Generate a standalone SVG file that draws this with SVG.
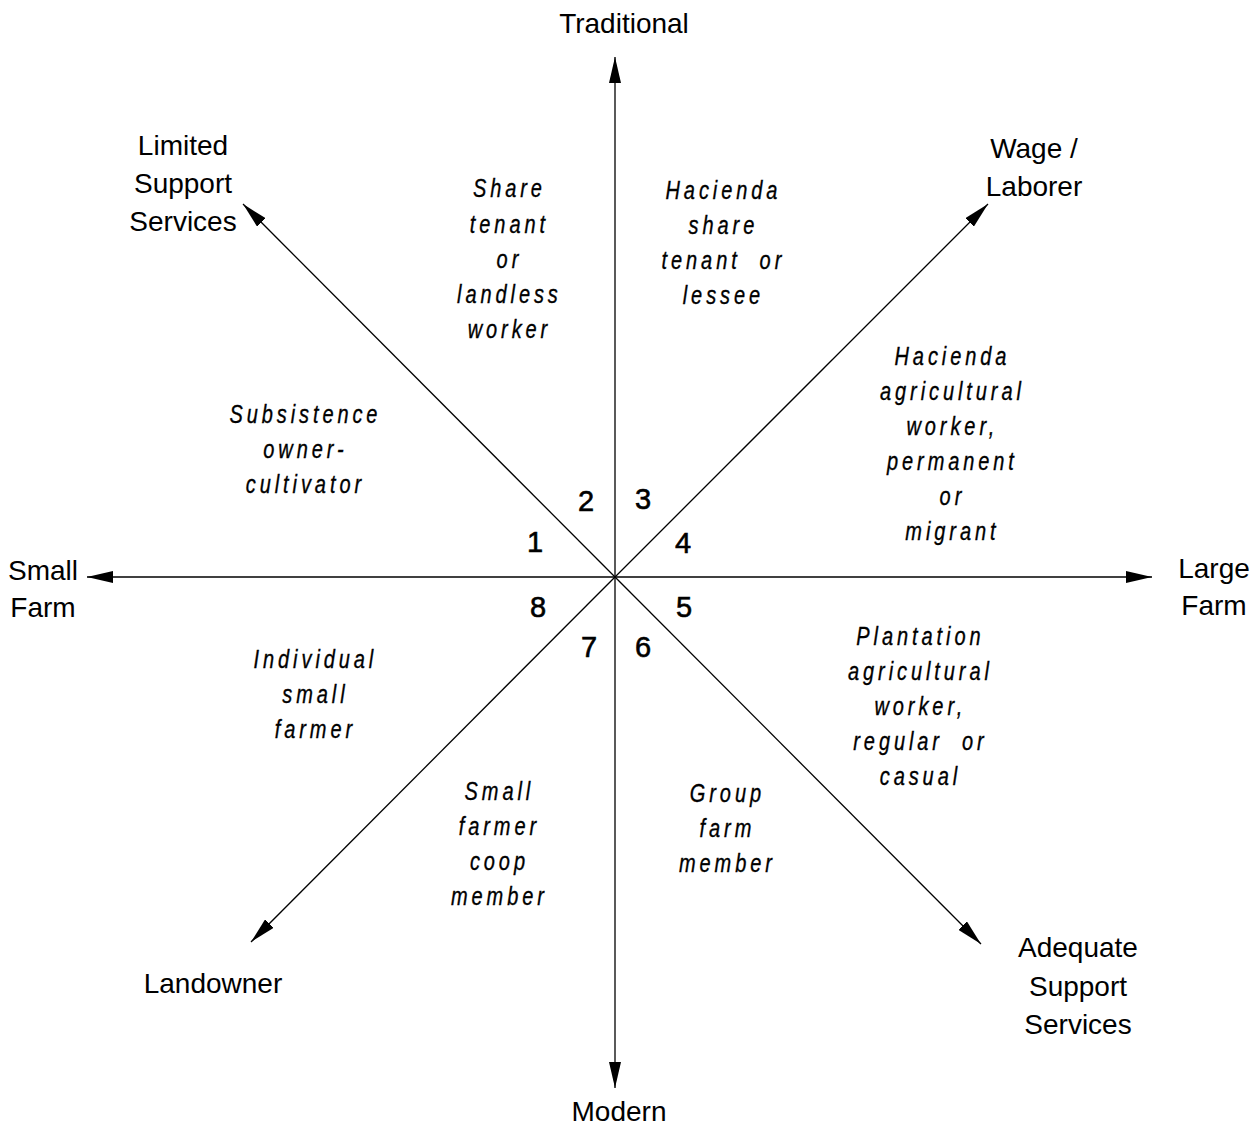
<svg xmlns="http://www.w3.org/2000/svg" width="1254" height="1129" viewBox="0 0 1254 1129">
<style>
.ax{stroke:#000;stroke-width:1.3;fill:none}
.lab{font-family:"Liberation Sans",Arial,sans-serif;font-size:28px;fill:#000;text-anchor:middle}
.num{font-family:"Liberation Sans",Arial,sans-serif;font-size:29px;fill:#000;text-anchor:middle;stroke:#000;stroke-width:0.6}
.it{font-family:"Liberation Sans",Arial,sans-serif;font-style:italic;font-size:25px;letter-spacing:4.9px;fill:#000;text-anchor:middle;stroke:#000;stroke-width:0.35}
</style>
<defs>
<marker id="ah" viewBox="0 0 26 12" refX="26" refY="6" markerWidth="26" markerHeight="12" markerUnits="userSpaceOnUse" orient="auto">
<path d="M0,0 L26,6 L0,12 Z" fill="#000"/>
</marker>
</defs>
<g id="connectors">
<line class="ax" x1="615" y1="577" x2="615" y2="57" marker-end="url(#ah)"/>
<line class="ax" x1="615" y1="577" x2="615" y2="1088" marker-end="url(#ah)"/>
<line class="ax" x1="615" y1="577" x2="87" y2="577" marker-end="url(#ah)"/>
<line class="ax" x1="615" y1="577" x2="1152" y2="577" marker-end="url(#ah)"/>
<line class="ax" x1="615" y1="577" x2="243" y2="204" marker-end="url(#ah)"/>
<line class="ax" x1="615" y1="577" x2="988" y2="204" marker-end="url(#ah)"/>
<line class="ax" x1="615" y1="577" x2="251" y2="942" marker-end="url(#ah)"/>
<line class="ax" x1="615" y1="577" x2="981" y2="944" marker-end="url(#ah)"/>
</g>
<g id="traditional"><text class="lab" x="624" y="33">Traditional</text></g>
<g id="modern"><text class="lab" x="619" y="1121">Modern</text></g>
<g id="limited"><text class="lab" x="183" y="155">Limited</text><text class="lab" x="183" y="193">Support</text><text class="lab" x="183" y="231">Services</text></g>
<g id="wage"><text class="lab" x="1034" y="158">Wage /</text><text class="lab" x="1034" y="196">Laborer</text></g>
<g id="small-farm"><text class="lab" x="43" y="580">Small</text><text class="lab" x="43" y="617">Farm</text></g>
<g id="large-farm"><text class="lab" x="1214" y="578">Large</text><text class="lab" x="1214" y="615">Farm</text></g>
<g id="landowner"><text class="lab" x="213" y="993">Landowner</text></g>
<g id="adequate"><text class="lab" x="1078" y="957">Adequate</text><text class="lab" x="1078" y="996">Support</text><text class="lab" x="1078" y="1034">Services</text></g>
<g id="n1"><text class="num" x="535" y="552">1</text></g>
<g id="n2"><text class="num" x="586" y="511">2</text></g>
<g id="n3"><text class="num" x="643" y="509">3</text></g>
<g id="n4"><text class="num" x="683" y="553">4</text></g>
<g id="n5"><text class="num" x="684" y="617">5</text></g>
<g id="n6"><text class="num" x="643" y="657">6</text></g>
<g id="n7"><text class="num" x="589" y="657">7</text></g>
<g id="n8"><text class="num" x="538" y="617">8</text></g>
<g id="sec2" transform="translate(507 0) scale(0.8 1)"><text class="it" x="3" y="197">Share</text><text class="it" x="3" y="233">tenant</text><text class="it" x="3" y="268">or</text><text class="it" x="3" y="303">landless</text><text class="it" x="3" y="338">worker</text></g>
<g id="sec3" transform="translate(721 0) scale(0.8 1)"><text class="it" x="3" y="199">Hacienda</text><text class="it" x="3" y="234">share</text><text class="it" x="3" y="269" xml:space="preserve">tenant  or</text><text class="it" x="3" y="304">lessee</text></g>
<g id="sec1" transform="translate(303 0) scale(0.8 1)"><text class="it" x="3" y="423">Subsistence</text><text class="it" x="3" y="458">owner-</text><text class="it" x="3" y="493">cultivator</text></g>
<g id="sec4" transform="translate(950 0) scale(0.8 1)"><text class="it" x="3" y="365">Hacienda</text><text class="it" x="3" y="400">agricultural</text><text class="it" x="3" y="435">worker,</text><text class="it" x="3" y="470">permanent</text><text class="it" x="3" y="505">or</text><text class="it" x="3" y="540">migrant</text></g>
<g id="sec8" transform="translate(313 0) scale(0.8 1)"><text class="it" x="3" y="668">Individual</text><text class="it" x="3" y="703">small</text><text class="it" x="3" y="738">farmer</text></g>
<g id="sec5" transform="translate(918 0) scale(0.8 1)"><text class="it" x="3" y="645">Plantation</text><text class="it" x="3" y="680">agricultural</text><text class="it" x="3" y="715">worker,</text><text class="it" x="3" y="750" xml:space="preserve">regular  or</text><text class="it" x="3" y="785">casual</text></g>
<g id="sec7" transform="translate(497 0) scale(0.8 1)"><text class="it" x="3" y="800">Small</text><text class="it" x="3" y="835">farmer</text><text class="it" x="3" y="870">coop</text><text class="it" x="3" y="905">member</text></g>
<g id="sec6" transform="translate(725 0) scale(0.8 1)"><text class="it" x="3" y="802">Group</text><text class="it" x="3" y="837">farm</text><text class="it" x="3" y="872">member</text></g>
</svg>
